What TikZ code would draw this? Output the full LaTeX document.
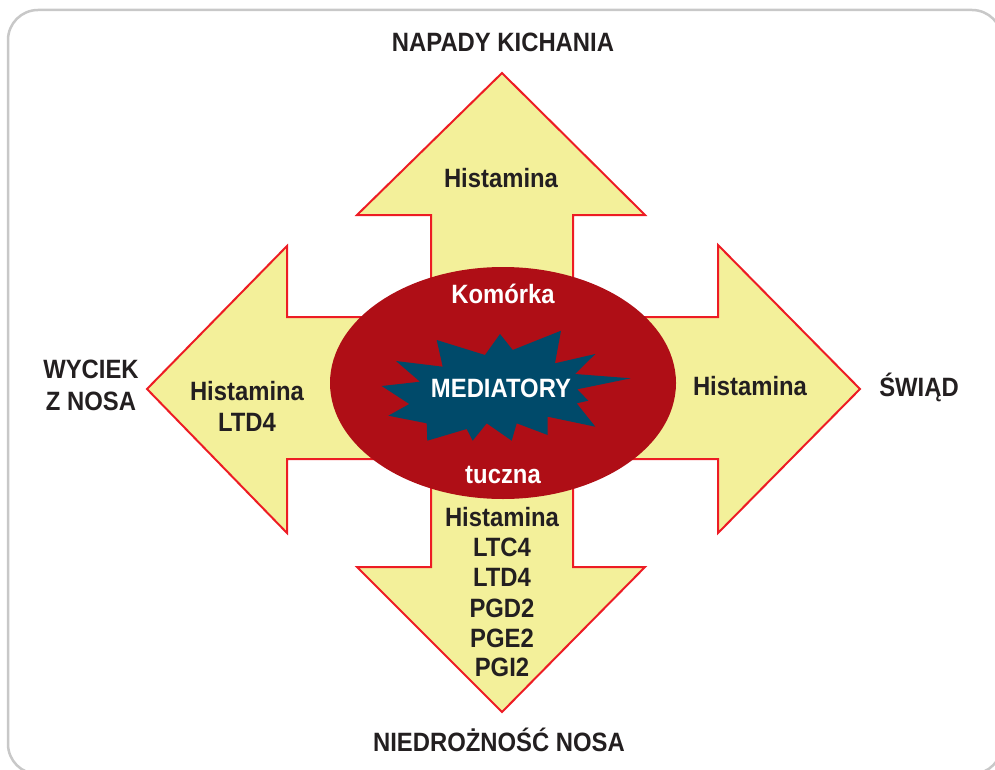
\documentclass[tikz,border=0pt]{standalone}
\usepackage{fontspec}
\usetikzlibrary{shapes.geometric}
\setmainfont{Liberation Sans}[FakeStretch=0.9]
\definecolor{arrowfill}{HTML}{F3F09A}
\definecolor{arrowline}{HTML}{ED1C24}
\definecolor{cellred}{HTML}{AF0E16}
\definecolor{startea}{HTML}{004A6A}
\definecolor{txt}{HTML}{231F20}
\definecolor{framegray}{HTML}{C8C8C8}
\tikzset{
  lbl/.style={font=\fontsize{26.5}{30}\selectfont\bfseries, text=txt, inner sep=0pt, anchor=base},
  wlbl/.style={lbl, text=white},
  arrowshape/.style={fill=arrowfill, draw=arrowline, line width=2pt, line join=miter},
}
\begin{document}
\begin{tikzpicture}[x=1pt,y=-1pt]
\useasboundingbox (0,0) rectangle (995,770);
% frame
\draw[framegray, line width=2.5pt, rounded corners=30pt] (8,10) rectangle (1002,774);
% four arrows as one cross shape
\draw[arrowshape] (502,73) -- (645,215) -- (573,215) -- (573,317) -- (718,317) -- (718,245)
  -- (860,389) -- (718,533) -- (718,459) -- (573,459) -- (573,567) -- (645,567)
  -- (502,712) -- (357,567) -- (431,567) -- (431,459) -- (287,459) -- (287,533)
  -- (147,389) -- (287,246) -- (287,317) -- (431,317) -- (431,215) -- (357,215) -- cycle;
% mast cell
\node (cell) [ellipse, fill=cellred, minimum width=346pt, minimum height=232pt, inner sep=0pt] at (503,383) {};
% star
\fill[startea] (500,334) -- (512.7,350) -- (561,330.7) -- (555,363.3) -- (595.3,354) -- (575,374)
  -- (630.7,378.3) -- (577.3,389.3) -- (588.3,400.7) -- (576.7,403.3) -- (595.3,426.7)
  -- (547.7,416.7) -- (547.7,435) -- (516.7,423.3) -- (511.7,440.7) -- (486.7,423.3)
  -- (472.7,440.7) -- (466.7,429) -- (427.3,440.7) -- (426.7,423.3) -- (388.3,415.7)
  -- (409.3,404) -- (381.7,386) -- (420,381.7) -- (396,361) -- (442.7,366.7)
  -- (436.7,340) -- (485,355) -- cycle;
% labels inside cell
\node (kom) [wlbl] at (503,303) {Komórka};
\node (med) [wlbl] at (501,397) {MEDIATORY};
\node (tuc) [wlbl] at (503,483) {tuczna};
% outer labels
\node (nap) [lbl] at (503,52) {NAPADY KICHANIA};
\node (wyc1) [lbl] at (91,378) {WYCIEK};
\node (wyc2) [lbl] at (91,410) {Z NOSA};
\node (swi) [lbl] at (919,396) {ŚWIĄD};
\node (nie) [lbl] at (499,751) {NIEDROŻNOŚĆ NOSA};
% arrow labels
\node (up) [lbl] at (501,188) {Histamina};
\node (l1) [lbl] at (247,400) {Histamina};
\node (l2) [lbl] at (247,431) {LTD4};
\node (r1) [lbl] at (750,395) {Histamina};
\node (d1) [lbl] at (502,526) {Histamina};
\node (d2) [lbl] at (502,556) {LTC4};
\node (d3) [lbl] at (502,586) {LTD4};
\node (d4) [lbl] at (502,617) {PGD2};
\node (d5) [lbl] at (502,647) {PGE2};
\node (d6) [lbl] at (502,676) {PGI2};
\end{tikzpicture}
\end{document}
